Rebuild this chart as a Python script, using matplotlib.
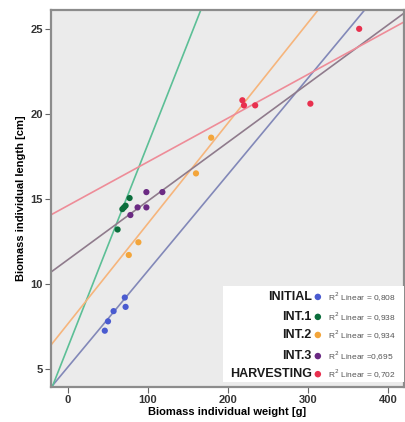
import numpy as np
import matplotlib
matplotlib.use("Agg")
from matplotlib import pyplot as plt

plt.rcParams['font.family'] = ['Liberation Sans', 'DejaVu Sans']

groups = ["INITIAL", "INT.1", "INT.2", "INT.3", "HARVESTING"]
r2_text = ["0,808", "0,938", "0,934", "0,695", "0,702"]
r2_sep = ["= ", "= ", "= ", "=", "= "]

# weight [g] and length [cm] per sampling
w_initial = [46, 50, 57, 71, 72]
l_initial = [7.25, 7.8, 8.4, 9.2, 8.65]
w_int1 = [62, 68, 70, 72, 77]
l_int1 = [13.2, 14.4, 14.5, 14.6, 15.05]
w_int2 = [76, 88, 160, 179]
l_int2 = [11.7, 12.45, 16.5, 18.6]
w_int3 = [78, 87, 98, 98, 118]
l_int3 = [14.05, 14.5, 14.5, 15.4, 15.4]
w_harv = [218, 220, 234, 303, 364]
l_harv = [20.8, 20.5, 20.5, 20.6, 25.0]

# linear fit lines (slope, intercept)
fit_slope = [0.0566, 0.1193, 0.0590, 0.0345, 0.0257]
fit_intercept = [5.12, 6.30, 7.66, 11.43, 14.61]

point_colors = ["#4a5bd0", "#0b6e3c", "#f3a53a", "#6b2a83", "#e8304e"]
line_colors = ["#8288b8", "#5cbf96", "#f6b57c", "#8f7b8c", "#ee8c98"]

weights = [w_initial, w_int1, w_int2, w_int3, w_harv]
lengths = [l_initial, l_int1, l_int2, l_int3, l_harv]

fig = plt.figure(figsize=(4.06, 4.22), dpi=100)
ax = fig.add_axes([0.1256, 0.083, 0.8694, 0.893])
ax.set_facecolor("#ebebeb")

ax.set_xlim(-21.25, 420)
ax.set_ylim(3.94, 26.1)

for m, b, c in zip(fit_slope, fit_intercept, line_colors):
    ax.axline((0, b), slope=m, color=c, lw=1.2, zorder=2)

for w, l, c in zip(weights, lengths, point_colors):
    ax.scatter(w, l, s=20, color=c, edgecolors="none", zorder=3)

ax.set_xticks([0, 100, 200, 300, 400])
ax.set_yticks([5, 10, 15, 20, 25])
ax.tick_params(direction="out", length=4, width=0.8, color="#666666",
               labelsize=8, labelcolor="#333333", pad=2)
for lab in ax.get_xticklabels() + ax.get_yticklabels():
    lab.set_fontweight("bold")

for s in ax.spines.values():
    s.set_color("#8c8c8c")
    s.set_linewidth(1.6)

ax.set_xlabel("Biomass individual weight [g]", fontsize=8, fontweight="bold", labelpad=1)
ax.set_ylabel("Biomass individual length [cm]", fontsize=8, fontweight="bold", labelpad=3)

# legend box in the lower right corner
ax.add_patch(plt.Rectangle((0.487, 0.013), 0.513, 0.255, transform=ax.transAxes,
                           facecolor="white", edgecolor="none", zorder=4))
rows_y = [0.239, 0.186, 0.138, 0.082, 0.034]
for name, r2, sep, c, y in zip(groups, r2_text, r2_sep, point_colors, rows_y):
    ax.text(0.739, y, name, transform=ax.transAxes, ha="right", va="center",
            fontsize=9, fontweight="bold", color="#1a1a1a", zorder=5)
    ax.scatter([0.756], [y], s=22, color=c, edgecolors="none",
               transform=ax.transAxes, zorder=5, clip_on=False)
    ax.text(0.785, y, "R$^2$ Linear " + sep + r2, transform=ax.transAxes,
            ha="left", va="center", fontsize=6, color="#555555", zorder=5)

fig.savefig("out.png", dpi=100)
